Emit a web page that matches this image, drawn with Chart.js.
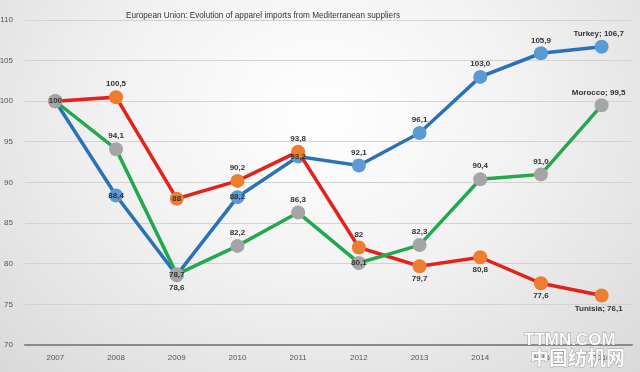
<!DOCTYPE html>
<html>
<head>
<meta charset="utf-8">
<script src="https://cdn.jsdelivr.net/npm/chart.js@4/dist/chart.umd.min.js"></script>
<style>
  html, body { margin: 0; padding: 0; }
  #wrap {
    width: 640px; height: 372px; position: relative;
    background: radial-gradient(ellipse at 50% 30%, #ffffff 0%, #f2f2f2 45%, #d9d9d9 100%);
  }
</style>
</head>
<body>
<div id="wrap"><canvas id="apparel-chart"></canvas></div>
<script>
// categories and series
let years = ['2007', '2008', '2009', '2010', '2011', '2012', '2013', '2014', '2015', '2016']
let turkey  = [100, 88.4, 78.6, 88.2, 93.2, 92.1, 96.1, 103.0, 105.9, 106.7]
let tunisia = [100, 100.5, 88, 90.2, 93.8, 82, 79.7, 80.8, 77.6, 76.1]
let morocco = [100, 94.1, 78.7, 82.2, 86.3, 80.1, 82.3, 90.4, 91.0, 99.5]
let yTicks = [70, 75, 80, 85, 90, 95, 100, 105, 110]

// where each value label sits relative to its point (a = above, b = below, c = on point, '' = none)
let turkeyLabelPos  = ['c', 'c', 'b', 'c', 'c', 'a', 'a', 'a', 'a', 'a']
let tunisiaLabelPos = ['', 'a', 'c', 'a', 'a', 'a', 'b', 'b', 'b', 'b']
let moroccoLabelPos = ['', 'a', 'c', 'a', 'a', 'c', 'a', 'a', 'a', 'a']

// numbers are written with a decimal comma; keep the decimals the chart shows
function fmt(v, i, name) {
    let s = String(v)
    if (name === 'Turkey' && i >= 7) s = v.toFixed(1)
    if (name === 'Morocco' && i === 8) s = v.toFixed(1)
    s = s.replace('.', ',')
    if (i === years.length - 1) s = name + '; ' + s
    return s
}

// draws the value label next to each point
let valueLabels = {
    id: 'valueLabels',
    afterDatasetsDraw(chart) {
        let ctx = chart.ctx
        ctx.save()
        ctx.font = 'bold 8px "Liberation Sans", Arial, sans-serif'
        ctx.fillStyle = '#333'
        ctx.textAlign = 'center'
        chart.data.datasets.forEach(function(ds, di) {
            let meta = chart.getDatasetMeta(di)
            meta.data.forEach(function(pt, i) {
                let pos = ds.labelPos[i]
                if (!pos) return
                let txt = fmt(ds.data[i], i, ds.label)
                let x = pt.x
                if (i === years.length - 1) x = pt.x - 3
                let y = pt.y
                if (pos === 'a') { ctx.textBaseline = 'bottom'; y -= 9 }
                else if (pos === 'b') { ctx.textBaseline = 'top'; y += 9 }
                else { ctx.textBaseline = 'middle' }
                ctx.fillText(txt, x, y)
            })
        })
        ctx.restore()
    }
}

// title sits inside the plot, above the top gridline area
let titleText = {
    id: 'titleText',
    afterDraw(chart) {
        let ctx = chart.ctx
        ctx.save()
        ctx.font = '8.2px "Liberation Sans", Arial, sans-serif'
        ctx.fillStyle = '#333'
        ctx.textAlign = 'center'
        ctx.textBaseline = 'middle'
        ctx.fillText('European Union: Evolution of apparel imports from Mediterranean suppliers', 263, 16)
        // watermark of the source site
        ctx.textAlign = 'left'
        ctx.font = 'bold 17px "Liberation Sans", Arial, sans-serif'
        ctx.fillStyle = 'rgba(255,255,255,0.92)'
        ctx.strokeStyle = 'rgba(120,120,120,0.6)'
        ctx.lineWidth = 1
        ctx.strokeText('TTMN.COM', 524, 340)
        ctx.fillText('TTMN.COM', 524, 340)
        ctx.font = 'bold 19px "Noto Sans CJK SC", sans-serif'
        ctx.strokeText('中国纺机网', 530, 358)
        ctx.fillText('中国纺机网', 530, 358)
        ctx.restore()
    }
}

let canvas = document.querySelector('#apparel-chart')
let context = canvas.getContext('2d')

let chart = new Chart(context, {
    type: 'line',
    data: {
        labels: years,
        datasets: [
            {
                label: 'Turkey', data: turkey, labelPos: turkeyLabelPos,
                borderColor: '#2a72b5', backgroundColor: '#5b9bd5', pointBackgroundColor: '#5b9bd5',
                borderWidth: 3.5, pointRadius: 7, pointBorderWidth: 0, order: 3
            },
            {
                label: 'Tunisia', data: tunisia, labelPos: tunisiaLabelPos,
                borderColor: '#e3221c', backgroundColor: '#ed7d31', pointBackgroundColor: '#ed7d31',
                borderWidth: 3.5, pointRadius: 7, pointBorderWidth: 0, order: 2
            },
            {
                label: 'Morocco', data: morocco, labelPos: moroccoLabelPos,
                borderColor: '#22a84f', backgroundColor: '#a5a5a5', pointBackgroundColor: '#a5a5a5',
                borderWidth: 3.5, pointRadius: 7, pointBorderWidth: 0, order: 1
            }
        ]
    },
    options: {
        responsive: true,
        maintainAspectRatio: false,
        animation: false,
        layout: { padding: { top: 20, left: 0, right: 8, bottom: 0 } },
        plugins: {
            legend: { display: false },
            tooltip: { enabled: false }
        },
        scales: {
            x: {
                offset: true,
                afterFit: function(axis) { axis.height = 27 },
                grid: { display: false },
                border: { color: '#8a8a8a', width: 1.5 },
                ticks: { color: '#555', font: { size: 8, family: '"Liberation Sans", Arial' }, padding: 0 }
            },
            y: {
                min: 70, max: 110,
                afterBuildTicks: function(axis) { axis.ticks = yTicks.map(v => ({ value: v })) },
                afterFit: function(axis) { axis.width = 25 },
                border: { display: false },
                grid: { color: function(c) { return c.tick.value === 70 ? '#8a8a8a' : '#d2d2d2' }, drawTicks: false },
                ticks: { color: '#555', font: { size: 8, family: '"Liberation Sans", Arial' }, padding: 12 }
            }
        }
    },
    plugins: [valueLabels, titleText]
})
</script>
</body>
</html>
